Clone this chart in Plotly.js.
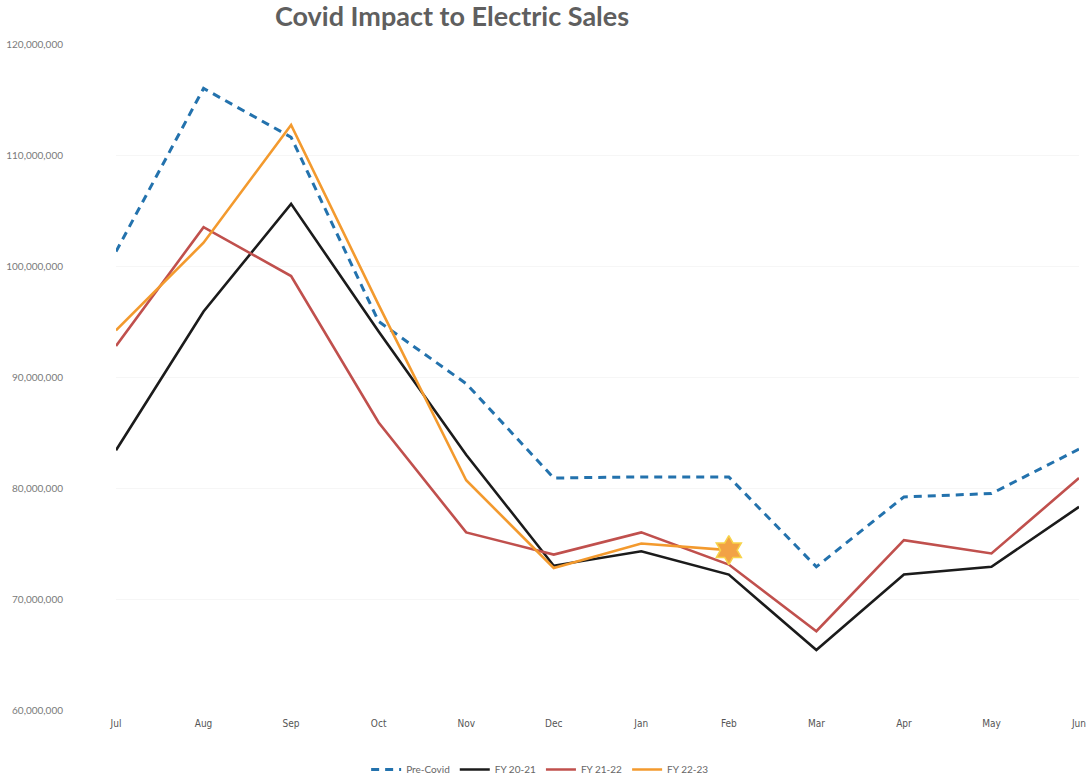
<!DOCTYPE html>
<html>
<head>
<meta charset="utf-8">
<script src="https://cdn.plot.ly/plotly-3.0.1.min.js"></script>
<style>
  html, body { margin: 0; padding: 0; background: #fff; }
  #chart { width: 1089px; height: 784px; }
</style>
</head>
<body>
<div id="chart"></div>
<script>
// Monthly electric sales by fiscal year (Jul–Jun)
const months = ['Jul', 'Aug', 'Sep', 'Oct', 'Nov', 'Dec', 'Jan', 'Feb', 'Mar', 'Apr', 'May', 'Jun'];

const preCovid = [101.3e6, 116.0e6, 111.6e6, 95.0e6, 89.4e6, 80.9e6, 81.0e6, 81.0e6, 72.9e6, 79.2e6, 79.5e6, 83.5e6];
const fy2021   = [83.4e6, 95.9e6, 105.6e6, 94.1e6, 83.0e6, 73.0e6, 74.3e6, 72.2e6, 65.4e6, 72.2e6, 72.9e6, 78.3e6];
const fy2122   = [92.8e6, 103.5e6, 99.1e6, 85.9e6, 76.0e6, 74.0e6, 76.0e6, 73.1e6, 67.1e6, 75.3e6, 74.1e6, 80.9e6];
// Current year, reported through February
const fy2223   = [94.2e6, 102.1e6, 112.7e6, 96.5e6, 80.7e6, 72.8e6, 75.0e6, 74.4e6];

const yTicks = [60e6, 70e6, 80e6, 90e6, 100e6, 110e6, 120e6];
const yTickText = ['60,000,000', '70,000,000', '80,000,000', '90,000,000', '100,000,000', '110,000,000', '120,000,000'];

const latestIdx = fy2223.length - 1;

const traces = [
  {
    x: months, y: preCovid, name: 'Pre-Covid', type: 'scatter', mode: 'lines',
    line: { color: '#2372ad', width: 3, dash: '8px,6px' }
  },
  {
    x: months, y: fy2021, name: 'FY 20-21', type: 'scatter', mode: 'lines',
    line: { color: '#1b1b1b', width: 2.6 }
  },
  {
    x: months, y: fy2122, name: 'FY 21-22', type: 'scatter', mode: 'lines',
    line: { color: '#c0504d', width: 2.6 }
  },
  {
    x: months.slice(0, fy2223.length), y: fy2223, name: 'FY 22-23', type: 'scatter', mode: 'lines',
    line: { color: '#f39a2e', width: 2.6 }
  },
  {
    // marker on the most recent month
    x: [months[latestIdx]], y: [fy2223[latestIdx]], type: 'scatter', mode: 'markers',
    showlegend: false, hoverinfo: 'skip',
    marker: { symbol: 'hexagram', size: 22, color: '#f2a245', line: { color: '#f7d34a', width: 1.5 } }
  }
];

const layout = {
  width: 1089, height: 784,
  paper_bgcolor: '#ffffff', plot_bgcolor: '#ffffff',
  margin: { l: 116, r: 10, t: 44, b: 74 },
  title: {
    text: '<b>Covid Impact to Electric Sales</b>',
    font: { family: 'Lato, "Open Sans", sans-serif', size: 27, color: '#5f5f5f' },
    x: 452 / 1089, xref: 'container', xanchor: 'center',
    y: 0.979, yref: 'container', yanchor: 'middle'
  },
  xaxis: {
    type: 'category', range: [0, 11],
    showgrid: false, zeroline: false, showline: false, ticks: '',
    tickfont: { family: '"Liberation Sans Narrow", "DejaVu Sans Condensed", sans-serif', size: 10, color: '#555' },
    ticklabelstandoff: 6
  },
  yaxis: {
    range: [60e6, 120e6],
    tickvals: yTicks, ticktext: yTickText,
    showgrid: true, gridcolor: '#f6f6f6', gridwidth: 1,
    zeroline: false, showline: false, ticks: '',
    tickfont: { family: 'Lato, "Open Sans", sans-serif', size: 10, color: '#7a7a7a' },
    ticklabelstandoff: 52
  },
  legend: {
    orientation: 'h', x: 0.496, xref: 'container', xanchor: 'center',
    y: -0.008, yref: 'container', yanchor: 'bottom',
    font: { family: 'Lato, "Open Sans", sans-serif', size: 10, color: '#666' },
    itemwidth: 30, tracegroupgap: 0
  },
  showlegend: true
};

Plotly.newPlot('chart', traces, layout, { staticPlot: true, displayModeBar: false });
</script>
</body>
</html>
